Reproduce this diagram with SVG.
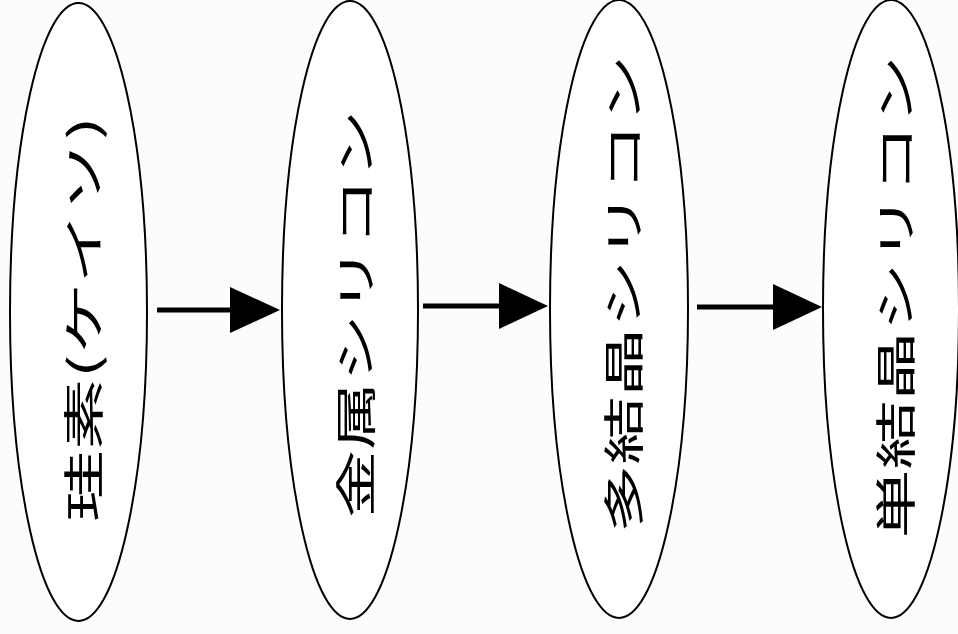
<svg xmlns="http://www.w3.org/2000/svg" width="958" height="634" viewBox="0 0 958 634">
<style>
.node ellipse{fill:#ffffff;stroke:#000000;stroke-width:2}
.node text{font-family:"Noto Sans CJK JP","Noto Sans CJK SC",sans-serif;font-size:41px;fill:#000000;text-anchor:middle;dominant-baseline:central}
.conn line{stroke:#000000;stroke-width:5}
.conn polygon{fill:#000000}
</style>
<rect width="958" height="634" fill="#fcfcfc"/>
<g id="node-keiso" class="node">
<ellipse cx="78.5" cy="312" rx="68.5" ry="309"/>
<text transform="translate(81,319) rotate(-90)" textLength="406" lengthAdjust="spacingAndGlyphs">珪素(ケイソ)</text>
</g>
<g id="node-kinzoku" class="node">
<ellipse cx="350" cy="310" rx="68" ry="309"/>
<text transform="translate(353,314) rotate(-90)" textLength="408" lengthAdjust="spacingAndGlyphs">金属シリコン</text>
</g>
<g id="node-takessho" class="node">
<ellipse cx="619" cy="309" rx="69" ry="309"/>
<text transform="translate(621,294) rotate(-90)" textLength="478" lengthAdjust="spacingAndGlyphs">多結晶シリコン</text>
</g>
<g id="node-tankessho" class="node">
<ellipse cx="891" cy="309" rx="68" ry="309"/>
<text transform="translate(893,297) rotate(-90)" textLength="483" lengthAdjust="spacingAndGlyphs">単結晶シリコン</text>
</g>
<g id="connectors" class="conn">
<line x1="157" y1="310" x2="232" y2="310"/>
<polygon points="230,287 280,310 230,333"/>
<line x1="423" y1="306" x2="501" y2="306"/>
<polygon points="499,283 548,306 499,329"/>
<line x1="697" y1="307" x2="775" y2="307"/>
<polygon points="773,284 822,307 773,330"/>
</g>
</svg>
